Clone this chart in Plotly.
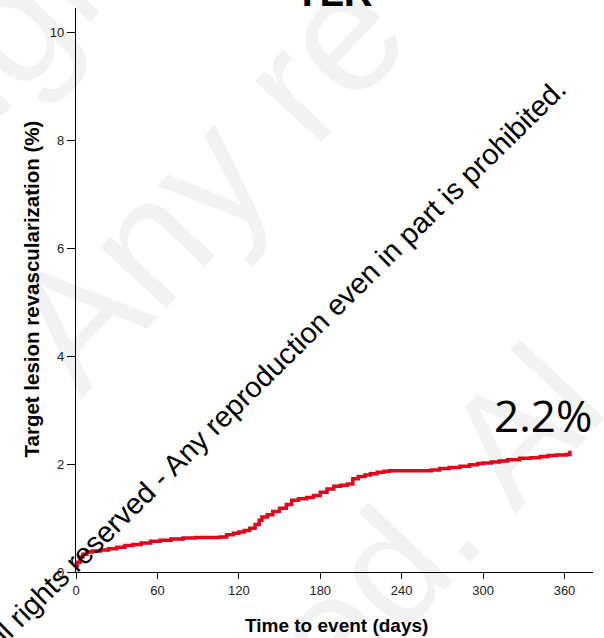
import plotly.graph_objects as go

# Data
days = [0, 1, 3, 5, 8, 12, 18, 24, 30, 36, 42, 48, 55, 62, 70, 79, 88, 97, 106, 111,
        116, 120, 124, 128, 132, 135, 137, 141, 145, 150, 155, 159, 164, 170, 175,
        180, 185, 190, 195, 200, 204, 208, 213, 217, 222, 227, 231, 240, 254, 262,
        268, 275, 283, 290, 296, 300, 306, 312, 318, 327, 335, 342, 348, 354, 361, 364]
tlr_pct = [0.12, 0.18, 0.28, 0.33, 0.37, 0.39, 0.41, 0.43, 0.46, 0.49, 0.51, 0.54, 0.57,
           0.59, 0.61, 0.63, 0.64, 0.64, 0.65, 0.69, 0.72, 0.74, 0.77, 0.81, 0.88, 0.96,
           1.02, 1.06, 1.12, 1.18, 1.25, 1.33, 1.36, 1.38, 1.42, 1.48, 1.54, 1.59, 1.61,
           1.63, 1.73, 1.77, 1.80, 1.82, 1.85, 1.87, 1.88, 1.88, 1.88, 1.89, 1.92, 1.94,
           1.96, 1.99, 2.01, 2.02, 2.04, 2.06, 2.08, 2.11, 2.12, 2.14, 2.16, 2.17, 2.18, 2.25]
x_ticks = [0, 60, 120, 180, 240, 300, 360]
y_ticks = [0, 2, 4, 6, 8, 10]
title_text = "TLR"
end_label = "2.2%"
end_label_day = 344
end_label_val = 2.91
watermark = "All rights reserved - Any reproduction even in part is prohibited."
bg_watermark_parts = ["rights", "Any re", "ed. Al"]

W, H = 604, 638
L, R, T, B = 75.7, 593.3, 7.5, 572.3

fig = go.Figure()
fig.add_trace(go.Scatter(
    x=days, y=tlr_pct, mode="lines", line=dict(color="#e3051b", width=3.5, shape="hv"),
    showlegend=False, hoverinfo="skip"))

axis_font = dict(family="Liberation Sans, Arial, sans-serif", size=13, color="#222")
fig.update_layout(
    width=W, height=H,
    margin=dict(l=L, r=W - R, t=T, b=H - B, pad=0),
    paper_bgcolor="white", plot_bgcolor="white",
    xaxis=dict(range=[0, 381], tickvals=x_ticks, ticks="outside", ticklen=6, tickwidth=1.3,
               tickcolor="black", showline=True, linecolor="black", linewidth=1.3,
               showgrid=False, zeroline=False, tickfont=axis_font, automargin=False),
    yaxis=dict(range=[0, 10.46], tickvals=y_ticks, ticks="outside", ticklen=8, tickwidth=1.3,
               tickcolor="black", showline=True, linecolor="black", linewidth=1.3,
               showgrid=False, zeroline=False, tickfont=axis_font, automargin=False),
)

def px_to_paper(px, py):
    return (px - L) / (R - L), (B - py) / (B - T)

ann = []
# faint background watermark
for part, (cx, cy), size in zip(bg_watermark_parts, [(52, -22), (205, 180), (435, 520)],
                                [165, 170, 160]):
    xp, yp = px_to_paper(cx, cy)
    ann.append(dict(text=part, x=xp, y=yp, xref="paper", yref="paper",
                    showarrow=False, xanchor="center", yanchor="middle", textangle=-47,
                    font=dict(family="Liberation Sans, Arial, sans-serif", size=size,
                              color="rgba(0,0,0,0.05)")))
xp, yp = px_to_paper(336.5, 626)
ann.append(dict(text="Time to event (days)", x=xp, y=yp, xref="paper", yref="paper",
                showarrow=False, xanchor="center", yanchor="middle",
                font=dict(family="Liberation Sans, Arial, sans-serif", size=19, color="black", weight="bold")))
xp, yp = px_to_paper(31, 289)
ann.append(dict(text="Target lesion revascularization (%)", x=xp, y=yp, xref="paper", yref="paper",
                showarrow=False, xanchor="center", yanchor="middle", textangle=-90,
                font=dict(family="Liberation Sans, Arial, sans-serif", size=20.5, color="black", weight="bold")))
xp, yp = px_to_paper(334, -9)
ann.append(dict(text=title_text, x=xp, y=yp, xref="paper", yref="paper",
                showarrow=False, xanchor="center", yanchor="middle",
                font=dict(family="Liberation Sans, Arial, sans-serif", size=40, color="black", weight="bold")))
ann.append(dict(text=end_label, x=end_label_day, y=end_label_val, xref="x", yref="y",
                showarrow=False, xanchor="center", yanchor="middle",
                font=dict(family="Open Sans, sans-serif", size=44, color="black")))
xp, yp = px_to_paper(272.7, 366.6)
ann.append(dict(text=watermark, x=xp, y=yp, xref="paper", yref="paper",
                showarrow=False, xanchor="center", yanchor="middle", textangle=-44.5,
                font=dict(family="Liberation Sans, Arial, sans-serif", size=29, color="black")))
fig.update_layout(annotations=ann)

fig.write_html("out.html", config={"displayModeBar": False},
               post_script="document.body.style.margin='0px';document.body.style.overflow='hidden';")
